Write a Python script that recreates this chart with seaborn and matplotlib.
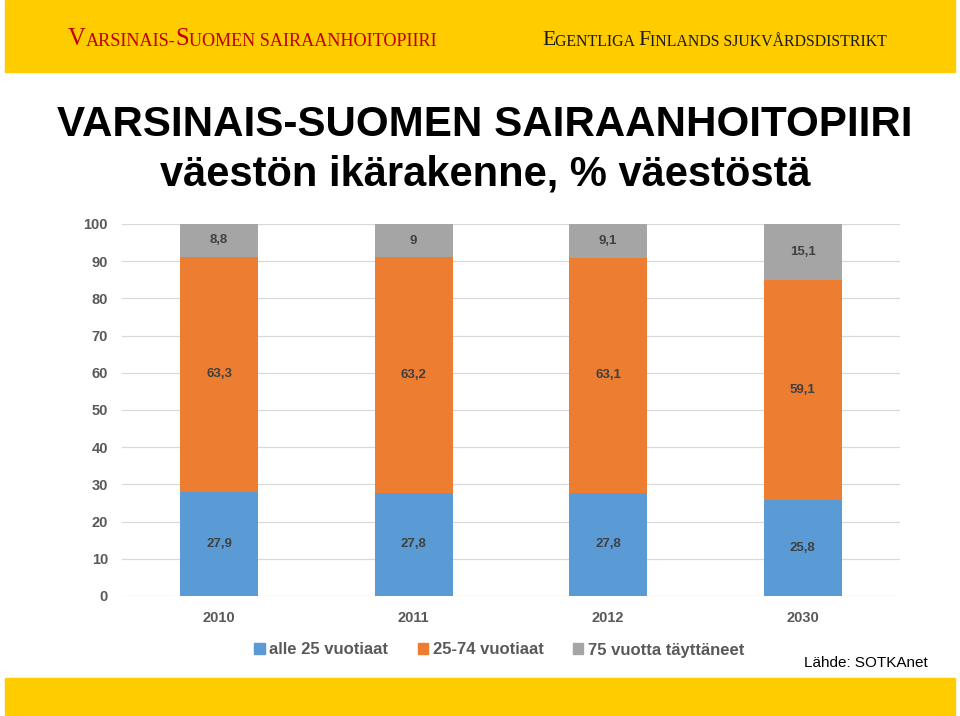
import numpy as np
import pandas as pd
import matplotlib.pyplot as plt
from matplotlib.patches import Rectangle
import seaborn as sns

# data
years = ["2010", "2011", "2012", "2030"]
alle25 = [27.9, 27.8, 27.8, 25.8]
ika25_74 = [63.3, 63.2, 63.1, 59.1]
yli75 = [8.8, 9.0, 9.1, 15.1]
groups = ["alle 25 vuotiaat", "25-74 vuotiaat", "75 vuotta täyttäneet"]
colors = ["#5B9BD5", "#ED7D31", "#A5A5A5"]

sns.set_style("white")
plt.rcParams["font.family"] = ["Liberation Sans", "DejaVu Sans"]

df = pd.DataFrame({"vuosi": years, groups[0]: alle25, groups[1]: ika25_74, groups[2]: yli75})
cum = df[groups].cumsum(axis=1)

fig = plt.figure(figsize=(9.6, 7.16), dpi=100)
ax = fig.add_axes([0.127, 0.1676, 0.8104, 0.5196])

# stacked bars: biggest cumulative first, then overdraw the lower stacks
for g, c in zip(groups[::-1], colors[::-1]):
    sns.barplot(x=df["vuosi"], y=cum[g], color=c, width=0.4, saturation=1,
                linewidth=0, ax=ax, zorder=2)

# value labels in the middle of each segment
for g in groups:
    for i, v in enumerate(df[g]):
        ax.text(i, cum[g][i] - v / 2, f"{v:g}".replace(".", ","), ha="center", va="center",
                fontsize=9.5, fontweight="bold", color="#404040", zorder=3)

ax.set_ylim(0, 100)
ax.set_xlim(-0.5, 3.5)
ax.set_yticks(range(0, 101, 10))
ax.yaxis.grid(True, color="#D9D9D9", lw=0.9, zorder=0)
ax.set_axisbelow(True)
sns.despine(ax=ax, left=True, bottom=True)
ax.set_xlabel("")
ax.set_ylabel("")
ax.tick_params(axis="x", length=0, pad=11, labelsize=10.5, labelcolor="#595959")
ax.tick_params(axis="y", length=0, pad=10, labelsize=10.5, labelcolor="#595959")
for lab in ax.get_xticklabels() + ax.get_yticklabels():
    lab.set_fontweight("bold")

# legend
handles = [Rectangle((0, 0), 1, 1, color=c) for c in colors]
fig.legend(handles, groups, loc="center", bbox_to_anchor=(0.52, 1 - 650 / 716), ncol=3,
           frameon=False, prop={"size": 12, "weight": "bold"}, handlelength=0.65,
           handleheight=0.65, handletextpad=0.25, columnspacing=1.75, labelcolor="#595959")

fig.text(928 / 960, 1 - 663 / 716, "Lähde: SOTKAnet", ha="right", va="center", fontsize=11, color="black")

# yellow bars
fig.add_artist(Rectangle((5 / 960, 1 - 72 / 716), 950 / 960, 72 / 716, transform=fig.transFigure,
                         color="#FFCC00", zorder=0))
fig.add_artist(Rectangle((5 / 960, 1 / 716), 950 / 960, 37 / 716, transform=fig.transFigure,
                         color="#FFCC00", zorder=0))


def smallcaps(x, y, parts, color, big_size, small_size):
    prev = None
    for txt, big in parts:
        size = big_size if big else small_size
        if prev is None:
            prev = fig.text(x, y, txt, fontsize=size, color=color, family="Liberation Serif",
                            ha="left", va="bottom")
        else:
            prev = ax.annotate(txt, xy=(1, 0), xycoords=prev, fontsize=size, color=color,
                               family="Liberation Serif", ha="left", va="bottom",
                               annotation_clip=False)


smallcaps(68 / 960, 1 - 50 / 716, [("V", True), ("ARSINAIS-", False), ("S", True),
                                    ("UOMEN SAIRAANHOITOPIIRI", False)], "#C00000", 17.8, 13.1)
smallcaps(542 / 960, 1 - 50 / 716, [("E", True), ("GENTLIGA ", False), ("F", True),
                                     ("INLANDS SJUKVÅRDSDISTRIKT", False)], "#1A1A1A", 15.6, 11.4)

# title
fig.text(485 / 960, 1 - 136 / 716, "VARSINAIS-SUOMEN SAIRAANHOITOPIIRI", ha="center",
         va="baseline", fontsize=30.3, fontweight="bold", color="black")
fig.text(485 / 960, 1 - 186 / 716, "väestön ikärakenne, % väestöstä", ha="center",
         va="baseline", fontsize=30, fontweight="bold", color="black")

fig.savefig("out.png", dpi=100)
